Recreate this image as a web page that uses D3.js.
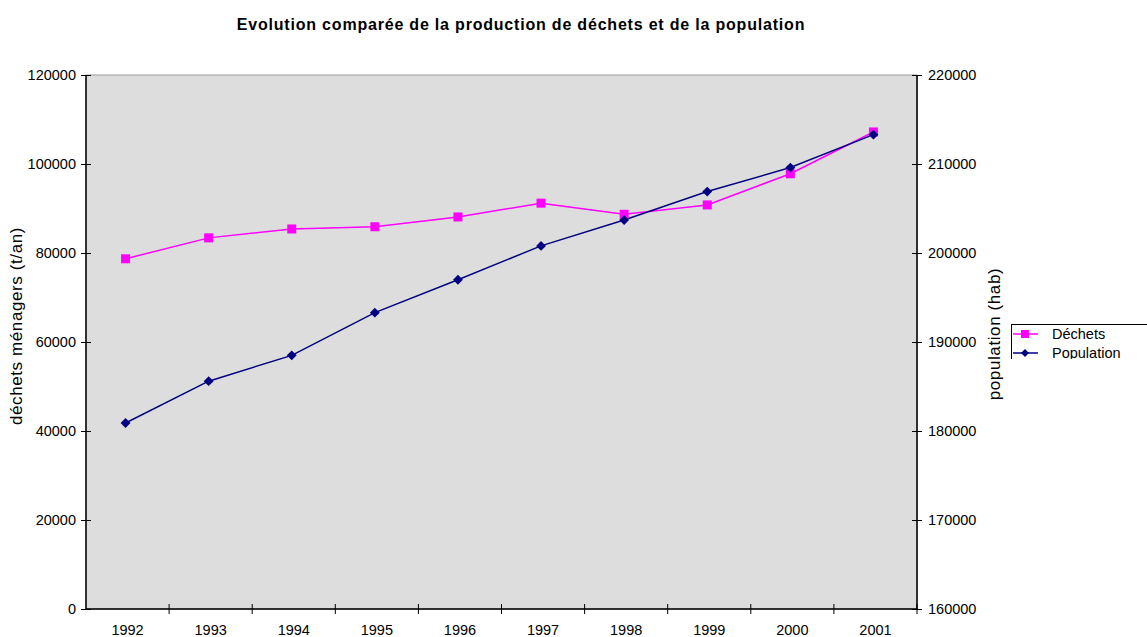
<!DOCTYPE html>
<meta charset="utf-8">
<head><title>Evolution comparée</title>
<style>
body { margin: 0; background: #fff; }
svg text { font-family: "Liberation Sans", Arial, sans-serif; fill: #000; }
.axis path, .axis line { stroke: #000; }
</style>
</head>
<body>
<svg width="1147" height="637"></svg>
<script src="https://d3js.org/d3.v7.min.js"></script>
<script>

// data
var years = ["1992","1993","1994","1995","1996","1997","1998","1999","2000","2001"];
var dechets = [78700, 83400, 85400, 85900, 88100, 91200, 88700, 90800, 97800, 107200];
var population = [180900, 185600, 188500, 193300, 197000, 200800, 203700, 206900, 209600, 213300];
var leftTicks = [0, 20000, 40000, 60000, 80000, 100000, 120000];
var rightTicks = [160000, 170000, 180000, 190000, 200000, 210000, 220000];

var svg = d3.select("svg");

var plot = {left: 86, right: 917, top: 75, bottom: 609};

var x = d3.scaleBand().domain(years).range([plot.left, plot.right]);
var yL = d3.scaleLinear().domain([0, 120000]).range([plot.bottom, plot.top]);
var yR = d3.scaleLinear().domain([160000, 220000]).range([plot.bottom, plot.top]);

// plot background
svg.append("rect")
  .attr("x", plot.left).attr("y", plot.top)
  .attr("width", plot.right - plot.left).attr("height", plot.bottom - plot.top)
  .attr("fill", "#dddddd").attr("stroke", "#999").attr("stroke-width", 1);

// title
svg.append("text")
  .attr("x", 521).attr("y", 30)
  .attr("text-anchor", "middle")
  .style("font-size", "16px").style("font-weight", "bold")
  .style("letter-spacing", "0.8px")
  .text("Evolution comparée de la production de déchets et de la population");

// left axis
var gl = svg.append("g").attr("class", "axis")
  .attr("transform", "translate(" + plot.left + ",0)")
  .call(d3.axisLeft(yL).tickValues(leftTicks).tickFormat(d3.format("d")).tickSize(5).tickPadding(5));
gl.selectAll(".tick line").attr("x2", -5).attr("x1", 5);
gl.selectAll(".tick text").style("font-size", "14.5px");
gl.select(".domain").attr("d", "M0," + plot.top + "V" + plot.bottom).attr("stroke-width", 1.5);

// right axis
var gr = svg.append("g").attr("class", "axis")
  .attr("transform", "translate(" + plot.right + ",0)")
  .call(d3.axisRight(yR).tickValues(rightTicks).tickFormat(d3.format("d")).tickSize(5).tickPadding(6));
gr.selectAll(".tick line").attr("x1", -5).attr("x2", 5);
gr.selectAll(".tick text").style("font-size", "14.5px");
gr.select(".domain").attr("d", "M0," + plot.top + "V" + plot.bottom).attr("stroke-width", 1.5);

// bottom axis
var gb = svg.append("g").attr("class", "axis")
  .attr("transform", "translate(0," + plot.bottom + ")")
  .call(d3.axisBottom(x).tickSize(0).tickPadding(16));
gb.selectAll(".tick text").style("font-size", "14.5px");
gb.select(".domain").attr("d", "M" + plot.left + ",0H" + plot.right).attr("stroke-width", 1.5);
gb.selectAll(".bnd")
  .data(years.slice(1).concat(["end"]))
  .enter().append("line")
  .attr("x1", function(d, i) { return plot.left + x.step() * (i + 1); })
  .attr("x2", function(d, i) { return plot.left + x.step() * (i + 1); })
  .attr("y1", -5).attr("y2", 5)
  .attr("stroke", "#000");

// axis titles
svg.append("text")
  .attr("transform", "translate(22,326) rotate(-90)")
  .attr("text-anchor", "middle")
  .style("font-size", "17px").style("letter-spacing", "0.6px")
  .text("déchets ménagers (t/an)");
svg.append("text")
  .attr("transform", "translate(1000,334) rotate(-90)")
  .attr("text-anchor", "middle")
  .style("font-size", "17px").style("letter-spacing", "0.6px")
  .text("population (hab)");

var cx = function(d, i) { return x(years[i]) + x.bandwidth() / 2 - 2; };

// déchets line
svg.append("path")
  .datum(dechets)
  .attr("fill", "none").attr("stroke", "#ff00ff").attr("stroke-width", 1.5)
  .attr("d", d3.line().x(cx).y(function(d) { return yL(d); }));

// population line
svg.append("path")
  .datum(population)
  .attr("fill", "none").attr("stroke", "#000080").attr("stroke-width", 1.5)
  .attr("d", d3.line().x(cx).y(function(d) { return yR(d); }));

// markers
svg.selectAll(".sq")
  .data(dechets).enter().append("rect")
  .attr("x", function(d, i) { return cx(d, i) - 4.5; })
  .attr("y", function(d) { return yL(d) - 4.5; })
  .attr("width", 9).attr("height", 9)
  .attr("fill", "#ff00ff");

var diamond = d3.symbol().type(d3.symbolDiamond2).size(62);
svg.selectAll(".dm")
  .data(population).enter().append("path")
  .attr("d", diamond)
  .attr("transform", function(d, i) { return "translate(" + cx(d, i) + "," + yR(d) + ")"; })
  .attr("fill", "#000080");

// legend (bottom and right clipped like the original)
svg.append("clipPath").attr("id", "lgclip")
  .append("rect").attr("x", 1010).attr("y", 323).attr("width", 137).attr("height", 36);
var lg = svg.append("g").attr("clip-path", "url(#lgclip)");
lg.append("rect")
  .attr("x", 1011.5).attr("y", 324.5).attr("width", 140).attr("height", 40)
  .attr("fill", "#fff").attr("stroke", "#000");
var items = [
  {name: "Déchets", color: "#ff00ff", shape: "sq"},
  {name: "Population", color: "#000080", shape: "dm"}
];
var symDm = d3.symbol().type(d3.symbolDiamond2).size(40);
items.forEach(function(it, i) {
  var yy = 334 + i * 19;
  lg.append("line").attr("x1", 1013).attr("x2", 1038).attr("y1", yy).attr("y2", yy)
    .attr("stroke", it.color).attr("stroke-width", 1.5);
  if (it.shape == "sq") {
    lg.append("rect").attr("x", 1021).attr("y", yy - 4).attr("width", 8).attr("height", 8).attr("fill", it.color);
  } else {
    lg.append("path").attr("d", symDm)
      .attr("transform", "translate(1025," + yy + ")").attr("fill", it.color);
  }
  lg.append("text").attr("x", 1052).attr("y", yy + 5)
    .style("font-size", "14.5px").text(it.name);
});

</script>
</body>
